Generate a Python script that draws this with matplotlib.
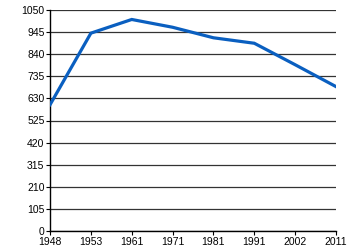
import matplotlib
matplotlib.use("Agg")
from matplotlib import pyplot as plt

years = ["1948", "1953", "1961", "1971", "1981", "1991", "2002", "2011"]
values = [600, 940, 1005, 968, 918, 892, 790, 686]
yticks = [0, 105, 210, 315, 420, 525, 630, 735, 840, 945, 1050]

plt.rcParams["font.family"] = ["Liberation Sans", "DejaVu Sans"]

fig = plt.figure(figsize=(3.5, 2.5), dpi=100)
ax = fig.add_axes([0.143, 0.076, 0.817, 0.884])

x = list(range(len(years)))
ax.plot(x, values, color="#0a5fc0", lw=2.3, solid_joinstyle="miter", zorder=3)

ax.set_xlim(0, len(years) - 1)
ax.set_ylim(0, 1050)
ax.set_xticks(x)
ax.set_xticklabels(years)
ax.set_yticks(yticks)
ax.yaxis.grid(True, color="#333333", lw=0.9)
ax.set_axisbelow(True)

for s in ["top", "right"]:
    ax.spines[s].set_visible(False)
ax.spines["left"].set_linewidth(1.0)
ax.spines["bottom"].set_linewidth(1.0)
ax.tick_params(axis="both", labelsize=7.5, length=3, width=0.8, pad=1)

fig.savefig("out.png", dpi=100)
